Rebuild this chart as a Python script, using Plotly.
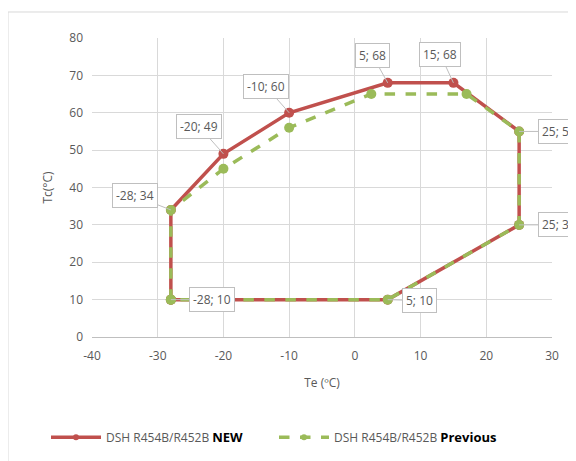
import plotly.graph_objects as go

# Data
te_new = [-28, -28, -20, -10, 5, 15, 25, 25, 5, -28]
tc_new = [10, 34, 49, 60, 68, 68, 55, 30, 10, 10]
te_prev = [-28, -28, -20, -10, 2.5, 17, 25, 25, 5, -28]
tc_prev = [10, 34, 45, 56, 65, 65, 55, 30, 10, 10]

label_te = [-28, -20, -10, 5, 15, 25, 25, 5, -28]
label_tc = [34, 49, 60, 68, 68, 55, 30, 10, 10]
label_ax = [-36, -24, -23, -15, -13, 40, 40, 32, 41]
label_ay = [-14, -27, -26, -27, -28, 0, 0, 1, 0]

x_ticks = [-40, -30, -20, -10, 0, 10, 20, 30]
x_ticktext = ["-40", "-30", "-20", "-10", "0", "10", "20", "30"]
y_ticks = [0, 10, 20, 30, 40, 50, 60, 70, 80]

name_new = "DSH R454B/R452B <span style='color:#000000;font-size:13px'><b>NEW</b></span>"
name_prev = "DSH R454B/R452B <span style='color:#000000;font-size:13px'><b>Previous</b></span>"

RED = "#C0504D"
GREEN = "#9BBB59"
FONT = "Open Sans"

fig = go.Figure()
fig.add_trace(go.Scatter(
    x=te_new, y=tc_new, mode="lines+markers", showlegend=False,
    line=dict(color=RED, width=3.5), marker=dict(color=RED, size=10),
))
fig.add_trace(go.Scatter(
    x=te_prev, y=tc_prev, mode="lines+markers", showlegend=False,
    line=dict(color=GREEN, width=3.5, dash="dash"), marker=dict(color=GREEN, size=10),
))
# legend entries with small markers
fig.add_trace(go.Scatter(
    x=[None], y=[None], mode="lines+markers", name=name_new,
    line=dict(color=RED, width=3.5), marker=dict(color=RED, size=6),
))
fig.add_trace(go.Scatter(
    x=[None], y=[None], mode="lines+markers", name=name_prev,
    line=dict(color=GREEN, width=3.5, dash="dash"), marker=dict(color=GREEN, size=6),
))

for x, y, ax, ay in zip(label_te, label_tc, label_ax, label_ay):
    fig.add_annotation(
        x=x, y=y, text=f"{x}; {y}", showarrow=True, arrowhead=0,
        arrowcolor="#BFBFBF", arrowwidth=1, ax=ax, ay=ay,
        bgcolor="white", bordercolor="#BFBFBF", borderwidth=1, borderpad=3,
        font=dict(family=FONT, size=12, color="#595959"),
    )

fig.add_shape(type="rect", xref="paper", yref="paper",
              x0=-0.1826, x1=1.3, y0=-0.6, y1=1.087,
              line=dict(color="#D9D9D9", width=1), layer="below")

fig.update_layout(
    width=576, height=461,
    margin=dict(l=84, r=32, t=30, b=132),
    paper_bgcolor="white", plot_bgcolor="white",
    font=dict(family=FONT, size=12, color="#595959"),
    showlegend=True,
    legend=dict(orientation="h", x=-0.1, xanchor="left", y=-0.335, yanchor="middle",
                font=dict(family=FONT, size=12, color="#595959"),
                itemwidth=50, entrywidth=163, tracegroupgap=0),
    xaxis=dict(range=[-40, 30], tickvals=x_ticks, ticktext=x_ticktext,
               showgrid=True, gridcolor="#D9D9D9",
               zeroline=False, showline=True, linecolor="#BFBFBF", mirror=False,
               ticks="", ticklabelstandoff=8,
               title=dict(text="Te (ºC)", font=dict(size=12, color="#595959"), standoff=15),
               tickfont=dict(size=12, color="#595959")),
    yaxis=dict(range=[0, 80], tickvals=y_ticks,
               showgrid=True, gridcolor="#D9D9D9",
               zeroline=False, showline=False, ticks="", ticklabelstandoff=8,
               title=dict(text="Tc(°C)", font=dict(size=12, color="#595959"), standoff=14),
               tickfont=dict(size=12, color="#595959")),
)

fig.write_html("out.html")
